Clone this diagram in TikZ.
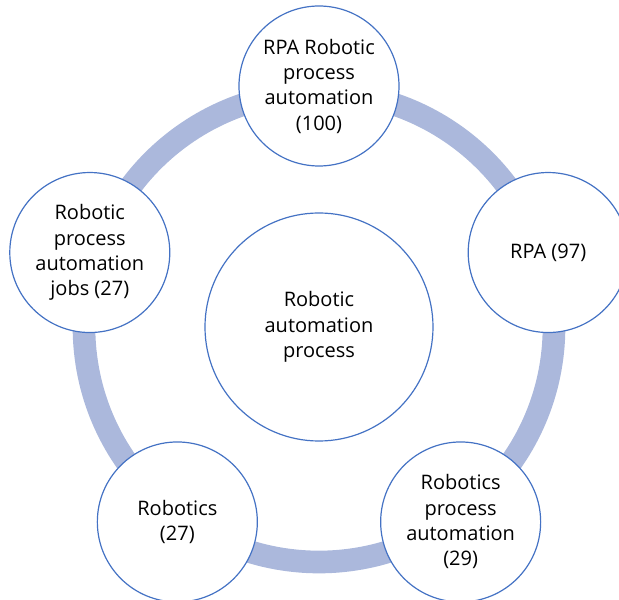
\documentclass[tikz,border=0pt]{standalone}
\usepackage{fontspec}
\setmainfont{Open Sans}

\definecolor{rimblue}{HTML}{4472C4}
\definecolor{ringblue}{HTML}{ABB8DC}

\begin{document}
\begin{tikzpicture}[x=0.75pt,y=0.75pt,
  topic/.style={circle,draw=rimblue,fill=white,line width=0.9pt,
    minimum size=120pt,inner sep=0pt,align=center,
    font=\fontsize{15}{19}\selectfont},
  hub/.style={topic,minimum size=171pt},
  ring/.style={ringblue,line width=17pt}]
  \useasboundingbox (-319,-273) rectangle (300,327);

  % centre and the band behind the outer circles
  \coordinate (c) at (0,0);
  \draw[ring] (c) circle (235);

  \node[hub] (hub) at (c) {Robotic\\automation\\process};

  % outer circles, every 72 degrees
  \node[topic] (rpa100) at (90:241) {RPA Robotic\\process\\automation\\(100)};
  \node[topic] (rpa97) at (18:241) {RPA (97)};
  \node[topic] (rbpa) at (-54:241) {Robotics\\process\\automation\\(29)};
  \node[topic] (rb) at (-126:241) {Robotics\\(27)};
  \node[topic] (rpajobs) at (162:241) {Robotic\\process\\automation\\jobs (27)};
\end{tikzpicture}
\end{document}
